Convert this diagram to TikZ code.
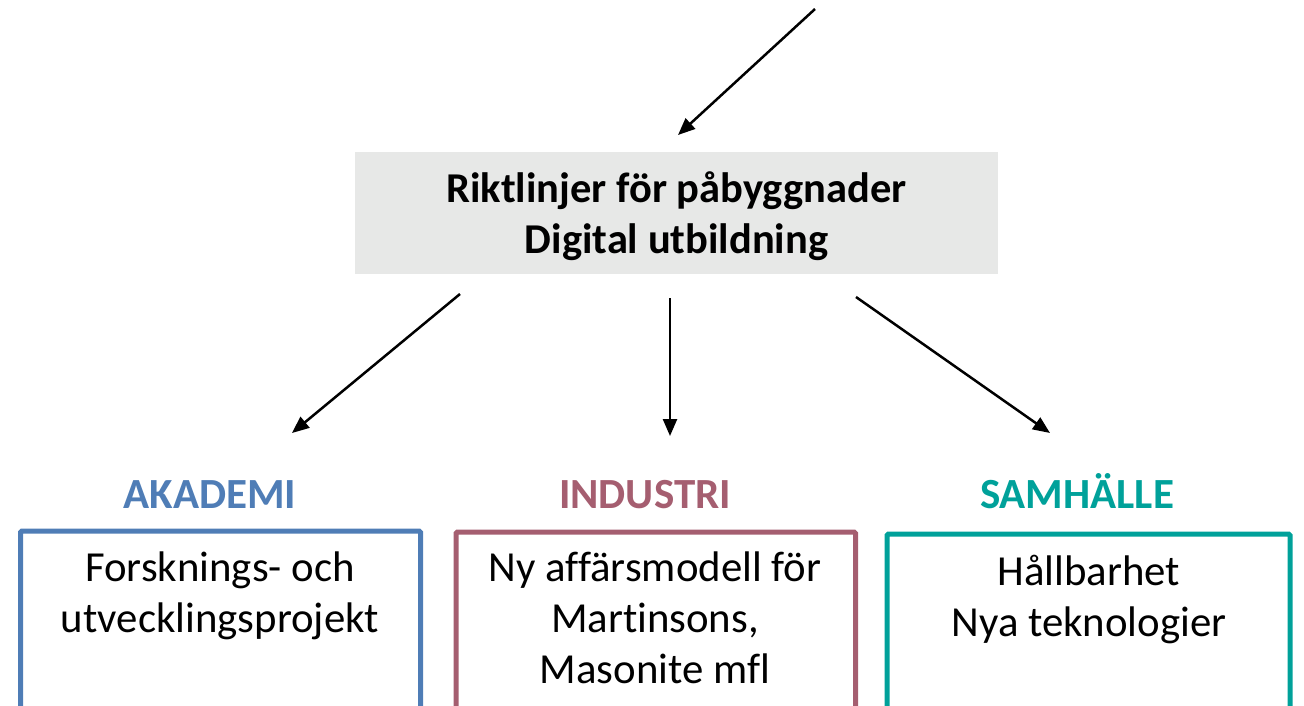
\documentclass[tikz,border=0pt]{standalone}
\usepackage{fontspec}
\setmainfont{Carlito}[Ligatures=NoCommon]
\usetikzlibrary{arrows.meta}
\definecolor{akablue}{HTML}{4F7DB6}
\definecolor{indrose}{HTML}{A55E70}
\definecolor{samteal}{HTML}{00A19A}
\definecolor{headgray}{HTML}{E7E8E7}
\tikzset{
  headbox/.style={fill=headgray, draw=none, minimum width=643pt, minimum height=122pt, inner sep=0pt},
  headtext/.style={align=center, font=\fontsize{42.5}{51}\selectfont\bfseries, inner sep=0pt},
  areabox/.style={draw=#1, line width=5pt, rectangle, rounded corners=1.5pt},
  areatitle/.style={text=#1, font=\fontsize{43}{47}\selectfont\bfseries, inner sep=0pt, anchor=base},
  boxtext/.style={align=center, font=\fontsize{42.8}{51}\selectfont, inner sep=0pt, anchor=north},
  flow/.style={line width=2.5pt, -{Triangle[length=17pt,width=14pt]}}
}
\begin{document}
\begin{tikzpicture}[x=1pt,y=-1pt]
\useasboundingbox (0,0) rectangle (1304,705);
\clip (0,0) rectangle (1304,705);

% central heading
\node[headbox] (head) at (676.5,213) {};
\node[headtext] (headlabel) at (676.5,216) {Riktlinjer för påbyggnader\\Digital utbildning};

% area titles
\node[areatitle=akablue] (akatitle) at (210,508) {AKADEMI};
\node[areatitle=indrose] (indtitle) at (645,508) {INDUSTRI};
\node[areatitle=samteal] (samtitle) at (1077,508) {SAMHÄLLE};

% area boxes, open at the bottom edge
\draw[areabox=akablue] (20.5,740) |- (420.5,531) -- (420.5,740);
\draw[areabox=indrose] (456,740) |- (855.5,532) -- (855.5,740);
\draw[areabox=samteal] (887,740) |- (1290,534) -- (1290,740);

\node[boxtext] (akatext) at (220,552) {Forsknings- och\\utvecklingsprojekt};
\node[boxtext] (indtext) at (655,552) {Ny affärsmodell för\\Martinsons,\\Masonite mfl};
\node[boxtext] (samtext) at (1089,555) {Hållbarhet\\Nya teknologier};

% connector end points
\coordinate (in0) at (815,9);
\coordinate (in1) at (678,135);
\coordinate (outA0) at (460,294);
\coordinate (outA1) at (292,433);
\coordinate (outB0) at (670,298);
\coordinate (outB1) at (670,436);
\coordinate (outC0) at (856,297);
\coordinate (outC1) at (1050,433);

\draw[flow] (in0) -- (in1);
\draw[flow] (outA0) -- (outA1);
\draw[flow] (outB0) -- (outB1);
\draw[flow] (outC0) -- (outC1);
\end{tikzpicture}
\end{document}
